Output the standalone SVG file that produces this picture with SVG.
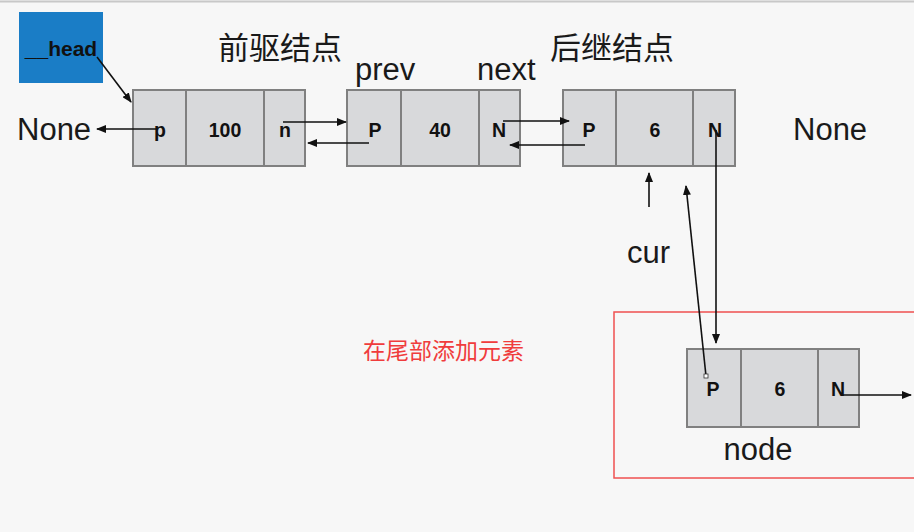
<svg xmlns="http://www.w3.org/2000/svg" width="914" height="532" viewBox="0 0 914 532">
<style>
.cell{fill:#d8d9db;stroke:#808080;stroke-width:2}
.lbl{font-family:"Liberation Sans",Arial,sans-serif;font-weight:bold;font-size:19.5px;fill:#111;text-anchor:middle}
.big{font-family:"Liberation Sans",Arial,sans-serif;font-size:31px;fill:#1a1a1a}
.cjk{font-family:"Noto Sans CJK SC",sans-serif;font-size:31px;fill:#1a1a1a}
.ln{stroke:#111;stroke-width:1.6;fill:none;marker-end:url(#ah)}
</style>
<defs>
<marker id="ah" markerWidth="10" markerHeight="8" refX="9" refY="4" orient="auto" markerUnits="userSpaceOnUse">
<path d="M0,0 L10,4 L0,8 Z" fill="#111"/>
</marker>
</defs>
<rect x="0" y="0" width="914" height="532" fill="#f7f7f7"/>
<line x1="0" y1="1.5" x2="914" y2="1.5" stroke="#c8c8c8" stroke-width="2"/>

<g id="head">
<rect x="19" y="12" width="84" height="71" fill="#1a7dc6"/>
<text x="61" y="56" class="lbl" style="font-size:21px">__head</text>
</g>

<g id="node1">
<rect class="cell" x="133" y="90" width="53" height="76"/>
<rect class="cell" x="186" y="90" width="78" height="76"/>
<rect class="cell" x="264" y="90" width="41" height="76"/>
<text class="lbl" x="160" y="137">p</text>
<text class="lbl" x="225" y="137">100</text>
<text class="lbl" x="285" y="137">n</text>
</g>

<g id="node2">
<rect class="cell" x="347" y="90" width="54" height="76"/>
<rect class="cell" x="401" y="90" width="78" height="76"/>
<rect class="cell" x="479" y="90" width="41" height="76"/>
<text class="lbl" x="375" y="137">P</text>
<text class="lbl" x="440" y="137">40</text>
<text class="lbl" x="499" y="137">N</text>
</g>

<g id="node3">
<rect class="cell" x="563" y="90" width="53" height="76"/>
<rect class="cell" x="616" y="90" width="77" height="76"/>
<rect class="cell" x="693" y="90" width="42" height="76"/>
<text class="lbl" x="589" y="137">P</text>
<text class="lbl" x="655" y="137">6</text>
<text class="lbl" x="715" y="137">N</text>
</g>

<g id="newnode">
<rect x="614" y="312" width="310" height="166" fill="none" stroke="#f05050" stroke-width="1.5"/>
<rect class="cell" x="687" y="349" width="54" height="78"/>
<rect class="cell" x="741" y="349" width="77" height="78"/>
<rect class="cell" x="818" y="349" width="41" height="78"/>
<text class="lbl" x="713" y="396">P</text>
<text class="lbl" x="780" y="396">6</text>
<text class="lbl" x="838" y="396">N</text>
<text class="big" x="758" y="460" text-anchor="middle">node</text>
</g>

<g id="labels">
<text class="cjk" x="218" y="59">前驱结点</text>
<text class="cjk" x="550" y="59">后继结点</text>
<text class="big" x="355" y="80">prev</text>
<text class="big" x="477" y="80">next</text>
<text class="big" x="17" y="140">None</text>
<text class="big" x="793" y="140">None</text>
<text class="big" x="627" y="263">cur</text>
<text x="363" y="359" style="font-family:'Noto Sans CJK SC',sans-serif;font-size:23px;fill:#f03c3c">在尾部添加元素</text>
</g>

<g id="connectors">
<line class="ln" x1="97" y1="57" x2="131" y2="102"/>
<line class="ln" x1="157" y1="129" x2="97" y2="129"/>
<line class="ln" x1="283" y1="122" x2="346" y2="122"/>
<line class="ln" x1="369" y1="143" x2="308" y2="143"/>
<line class="ln" x1="503" y1="121" x2="569" y2="121"/>
<line class="ln" x1="585" y1="145" x2="510" y2="145"/>
<line class="ln" x1="649" y1="207" x2="649" y2="173"/>
<line class="ln" x1="706" y1="376" x2="686" y2="186"/>
<line class="ln" x1="716" y1="130" x2="716" y2="343"/>
<line class="ln" x1="843" y1="395" x2="911" y2="395"/>
<rect x="704" y="374" width="4" height="4" fill="#fff" stroke="#333" stroke-width="0.8"/>
</g>
</svg>
